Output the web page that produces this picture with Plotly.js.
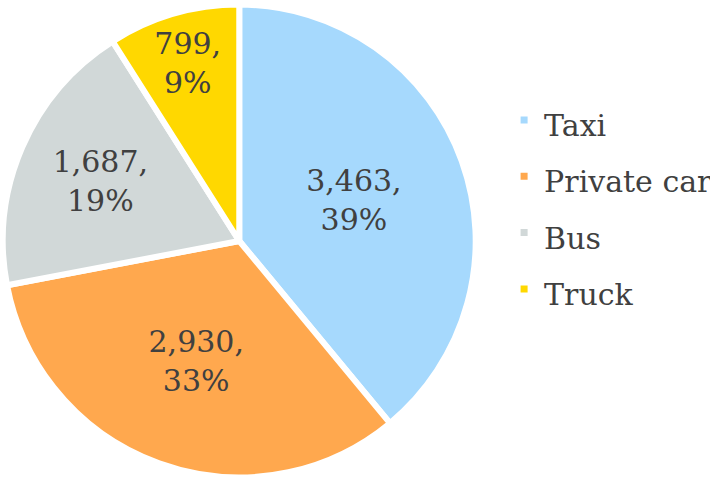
<!DOCTYPE html>
<html>
<head>
<meta charset="utf-8">
<script src="https://cdn.plot.ly/plotly-3.0.1.min.js"></script>
<style>html,body{margin:0;padding:0;background:#fff;}#chart{width:710px;height:482px;}</style>
</head>
<body>
<div id="chart"></div>
<script>
const categories = ["Taxi", "Private car", "Bus", "Truck"];
const counts = [3463, 2930, 1687, 799];
const colors = ["#A6D9FD", "#FFA84E", "#D1D8D8", "#FFD800"];

const FONT = "DejaVu Serif";
const legendLabels = categories.map(c => '<span style="font-size:30px">' + c + '</span>');

const trace = {
  type: "pie",
  labels: legendLabels,
  values: counts,
  sort: false,
  direction: "clockwise",
  rotation: 0,
  marker: {colors: colors, line: {color: "#ffffff", width: 6}},
  texttemplate: "%{value:,},<br>%{percent:.0%}",
  textposition: "inside",
  insidetextorientation: "horizontal",
  textfont: {family: FONT, size: 30, color: "#404040"},
  hoverinfo: "none",
  domain: {x: [0.004, 0.67], y: [0.008, 0.992]}
};

const layout = {
  width: 710, height: 482,
  margin: {l: 0, r: 0, t: 0, b: 0, autoexpand: false},
  paper_bgcolor: "#ffffff",
  showlegend: true,
  legend: {
    x: 0.71, y: 0.575, xanchor: "left", yanchor: "middle",
    font: {family: FONT, size: 41, color: "#404040"},
    itemwidth: 30
  },
  uniformtext: {mode: "show", minsize: 30}
};

Plotly.newPlot("chart", [trace], layout, {displayModeBar: false, staticPlot: true});
</script>
</body>
</html>
